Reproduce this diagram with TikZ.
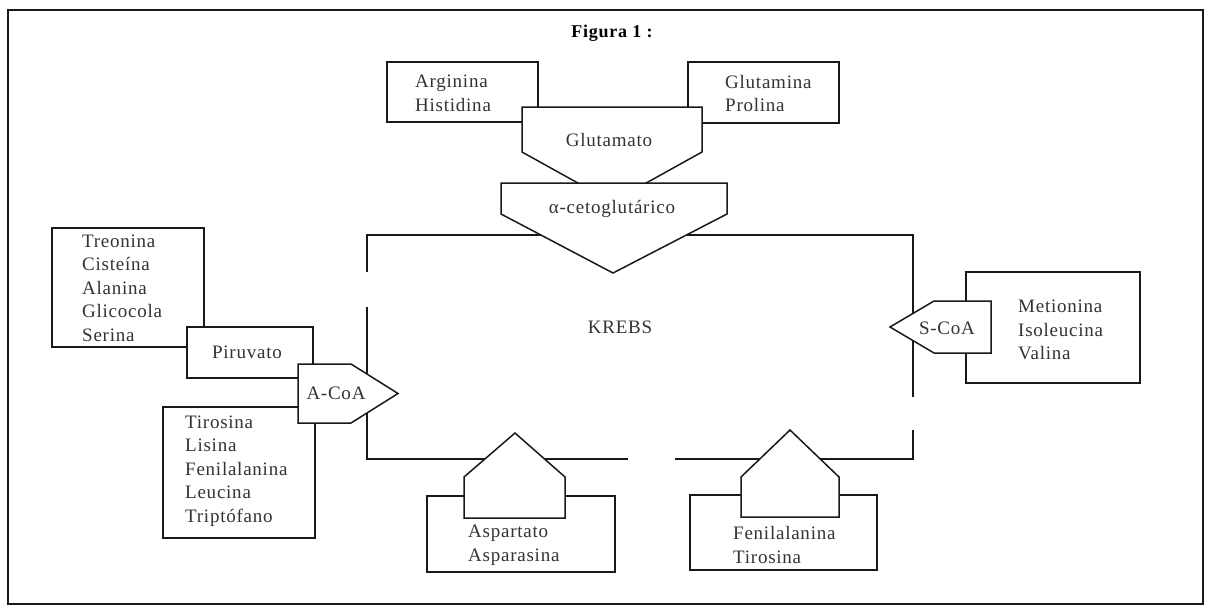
\documentclass[tikz,border=0pt]{standalone}
\usepackage{fontspec}
\setmainfont{Liberation Serif}[LetterSpace=4]
\begin{document}
\begin{tikzpicture}[x=1pt,y=-1pt,
  shp/.style={draw=black!90,line width=1.5pt,fill=white,line join=miter},
  ln/.style={draw=black!90,line width=1.5pt},
  txt/.style={font=\fontsize{19}{23.5}\selectfont,text=black!80,inner sep=0pt},
  lst/.style={txt,align=left,anchor=west}]
\useasboundingbox (0,0) rectangle (1206,606);
% frame
\draw[ln,line width=1.2pt] (8,10) rectangle (1203,604);
\node[txt,font=\fontsize{18}{22}\selectfont\bfseries,text=black] (title) at (612,33) {Figura 1 :};
% Krebs box with gaps
\draw[ln] (367,272) -- (367,235) -- (913,235) -- (913,397);
\draw[ln] (367,307) -- (367,459) -- (628,459);
\draw[ln] (675,459) -- (913,459) -- (913,430);
\node[txt] (krebs) at (620,327) {KREBS};
% top
\draw[shp] (387,62) rectangle (538,122);
\draw[shp] (688,62) rectangle (839,123);
\node[lst] (arg) at (415,93.5) {Arginina\\Histidina};
\node[lst] (glm) at (725,93.5) {Glutamina\\Prolina};
\draw[shp] (522,107) -- (702,107) -- (702,152) -- (612,202) -- (522,152) -- cycle;
\node[txt] (glu) at (609,140) {Glutamato};
\draw[shp] (501,183) -- (727,183) -- (727,214) -- (613,273) -- (501,214) -- cycle;
\node[txt] (akg) at (612,209) {α-cetoglutárico};
% left
\draw[shp] (52,228) rectangle (204,347);
\node[lst] (tre) at (82,288) {Treonina\\Cisteína\\Alanina\\Glicocola\\Serina};
\draw[shp] (187,327) rectangle (313,378);
\node[txt] (piru) at (247,352) {Piruvato};
\draw[shp] (163,407) rectangle (315,538);
\node[lst] (tir) at (185,471) {Tirosina\\Lisina\\Fenilalanina\\Leucina\\Triptófano};
\draw[shp] (298,364) -- (351,364) -- (398,393.5) -- (351,423) -- (298,423) -- cycle;
\node[txt] (acoa) at (336,393) {A-CoA};
% right
\draw[shp] (966,272) rectangle (1140,383);
\node[lst] (met) at (1018,330) {Metionina\\Isoleucina\\Valina};
\draw[shp] (991,301) -- (934,301) -- (890,327) -- (934,353) -- (991,353) -- cycle;
\node[txt] (scoa) at (947,328) {S-CoA};
% bottom
\draw[shp] (427,496) rectangle (615,572);
\draw[shp] (464,518) -- (464,477) -- (515,433) -- (565,477) -- (565,518) -- cycle;
\node[lst] (asp) at (468,545) {Aspartato\\Asparasina};
\draw[shp] (690,495) rectangle (877,570);
\draw[shp] (741,517) -- (741,477) -- (790,430) -- (839,477) -- (839,517) -- cycle;
\node[lst] (fen) at (733,545) {Fenilalanina\\Tirosina};
\end{tikzpicture}
\end{document}
